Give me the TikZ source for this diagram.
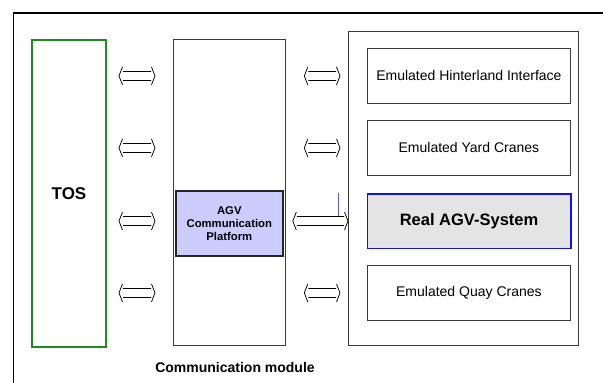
\documentclass[tikz,border=0pt]{standalone}
\usepackage{fontspec}
\setmainfont{Liberation Sans}
\usetikzlibrary{calc}

\definecolor{boxline}{HTML}{3A3A3A}
\definecolor{tosgreen}{HTML}{1C8C1C}
\definecolor{lavender}{HTML}{CCCCFF}
\definecolor{agvgray}{HTML}{E4E4E4}
\definecolor{agvblue}{HTML}{1010F0}

\tikzset{
  box/.style={draw=boxline, line width=1.3pt, fill=white, rectangle,
              anchor=north west, inner sep=0pt},
  subbox/.style={box, minimum width=203.5pt, minimum height=54.5pt,
                 font=\fontsize{14}{16}\selectfont},
  % hollow double-headed arrow: two shaft lines and two open chevrons
  link/.style={draw=black, line width=0.75pt, line join=round,
    to path={let \p1=(\tikztostart), \p2=(\tikztotarget) in
      (\x1+4pt,\y1+4.5pt) -- (\x2-4pt,\y1+4.5pt)
      (\x1+4pt,\y1-4.5pt) -- (\x2-4pt,\y1-4.5pt)
      (\x1+3.5pt,\y1+9pt) .. controls (\x1+2.5pt,\y1+4pt) .. (\x1,\y1)
                          .. controls (\x1+2.5pt,\y1-4pt) .. (\x1+3.5pt,\y1-9pt)
      (\x2-3.5pt,\y1+9pt) .. controls (\x2-2.5pt,\y1+4pt) .. (\x2,\y1)
                          .. controls (\x2-2.5pt,\y1-4pt) .. (\x2-3.5pt,\y1-9pt)}},
}

\begin{document}
\begin{tikzpicture}[x=1pt, y=-1pt]
  \useasboundingbox (0,0) rectangle (603,383);
  \clip (0,0) rectangle (603,383);
  \fill[white] (0,0) rectangle (603,383);

  % outer frame, running off the page on the right and at the bottom
  \draw[black, line width=1.2pt] (13.5,400) -- (13.5,13) -- (620,13);

  % terminal operating system
  \node[box, draw=tosgreen, line width=2pt, minimum width=74pt, minimum height=307pt,
        font=\bfseries\fontsize{17}{20}\selectfont] (tos) at (31,39) {TOS};

  % communication module column
  \node[box, minimum width=112pt, minimum height=306pt] (comm) at (173,39) {};
  \node[box, fill=lavender, draw=black!85, line width=1.6pt,
        minimum width=107pt, minimum height=65pt, align=center,
        font=\bfseries\fontsize{11.3}{13}\selectfont] (agv) at (175,190)
        {AGV\\Communication\\Platform};
  \node[font=\bfseries\fontsize{14}{16}\selectfont] (commlabel) at (235,367)
        {Communication module};

  % emulated / real subsystems
  \node[box, minimum width=230pt, minimum height=314pt] (right) at (348,31) {};
  \node[subbox] (hint) at (366.5,48)  {Emulated Hinterland Interface};
  \node[subbox] (yard) at (366.5,120) {Emulated Yard Cranes};
  \node[subbox, draw=agvblue, fill=agvgray, line width=1.6pt,
        font=\bfseries\fontsize{16.5}{19}\selectfont] (real) at (366.5,193) {Real AGV-System};
  \node[subbox] (quay) at (366.5,265) {Emulated Quay Cranes};

  % thin marker line above the AGV link
  \coordinate (mtop) at ($(right.west |- real.north)+(-10,0)$);
  \coordinate (mbot) at ($(right.west |- real.center)+(-10,-5)$);
  \draw[agvblue!70, line width=0.5pt] (mtop) -- (mbot);

  % link end points
  \foreach \r in {hint,yard,real,quay}{
    \coordinate (l\r a) at ($(tos.east |- \r.center)+(12,0)$);
    \coordinate (l\r b) at ($(comm.west |- \r.center)+(-18,0)$);
  }
  \foreach \r in {hint,yard,quay}{
    \coordinate (r\r a) at ($(comm.east |- \r.center)+(18,0)$);
    \coordinate (r\r b) at ($(right.west |- \r.center)+(-8,0)$);
  }
  \coordinate (rreala) at ($(comm.east |- real.center)+(6.5,0)$);
  \coordinate (rrealb) at (right.west |- real.center);

  % links between TOS and the communication module
  \foreach \r in {hint,yard,real,quay}{
    \draw[link] (l\r a) to (l\r b);
  }
  % links between the communication module and the subsystems
  \foreach \r in {hint,yard,real,quay}{
    \draw[link] (r\r a) to (r\r b);
  }
\end{tikzpicture}
\end{document}
